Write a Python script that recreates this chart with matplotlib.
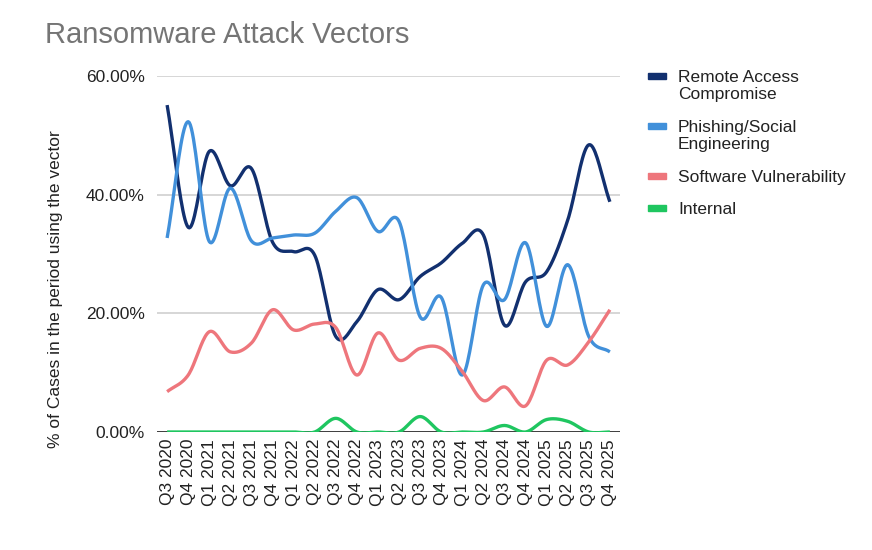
import numpy as np
import matplotlib.pyplot as plt
from matplotlib.patches import Rectangle
from matplotlib.ticker import FuncFormatter

plt.rcParams['font.family'] = ['Liberation Sans', 'DejaVu Sans']

quarters = ["Q3 2020", "Q4 2020", "Q1 2021", "Q2 2021", "Q3 2021", "Q4 2021",
            "Q1 2022", "Q2 2022", "Q3 2022", "Q4 2022", "Q1 2023", "Q2 2023",
            "Q3 2023", "Q4 2023", "Q1 2024", "Q2 2024", "Q3 2024", "Q4 2024",
            "Q1 2025", "Q2 2025", "Q3 2025", "Q4 2025"]

remote_access = [55.1, 34.5, 47.3, 41.5, 44.4, 32.0, 30.4, 29.8, 16.1, 18.6, 24.0, 22.3,
                 26.2, 28.5, 31.8, 33.2, 18.0, 25.3, 27.0, 35.7, 48.4, 38.8]
phishing = [32.7, 52.3, 32.1, 41.1, 32.2, 32.7, 33.2, 33.5, 37.2, 39.5, 33.8, 35.5,
            19.4, 22.7, 9.6, 24.8, 22.3, 31.9, 17.8, 28.2, 16.1, 13.5]
software_vuln = [6.8, 9.6, 16.9, 13.5, 15.0, 20.6, 17.2, 18.2, 17.6, 9.6, 16.7, 12.1,
                 14.1, 14.1, 10.2, 5.3, 7.6, 4.4, 12.1, 11.3, 15.2, 20.6]
internal = [0.0, 0.0, 0.0, 0.0, 0.0, 0.0, 0.0, 0.0, 2.3, 0.0, 0.0, 0.0,
            2.6, 0.0, 0.0, 0.0, 1.1, 0.0, 2.1, 1.8, 0.0, 0.0]

series = [("Remote Access\nCompromise", remote_access, "#12306f"),
          ("Phishing/Social\nEngineering", phishing, "#4190da"),
          ("Software Vulnerability", software_vuln, "#ee767c"),
          ("Internal", internal, "#1fc660")]


def smooth(y, n=20):
    # catmull-rom style cubic hermite through the points (x = 0..N-1)
    y = np.asarray(y, dtype=float) / 100.0
    N = len(y)
    m = np.zeros(N)
    m[1:-1] = (y[2:] - y[:-2]) / 2.0
    m[0] = y[1] - y[0]
    m[-1] = y[-1] - y[-2]
    xs, ys = [], []
    for i in range(N - 1):
        t = np.linspace(0, 1, n, endpoint=False)
        h00 = 2*t**3 - 3*t**2 + 1
        h10 = t**3 - 2*t**2 + t
        h01 = -2*t**3 + 3*t**2
        h11 = t**3 - t**2
        xs.append(i + t)
        ys.append(h00*y[i] + h10*m[i] + h01*y[i+1] + h11*m[i+1])
    xs.append([N - 1])
    ys.append([y[-1]])
    return np.concatenate(xs), np.concatenate(ys)


W, H = 872, 550
fig = plt.figure(figsize=(W/100, H/100), dpi=100)
ax = fig.add_axes([157/W, 1 - 432/H, 463/W, 356/H])

for label, vals, col in series:
    xs, ys = smooth(vals)
    ax.plot(xs, ys, color=col, lw=2.4, solid_capstyle='butt')

ax.set_xlim(-0.48, len(quarters) - 0.52)
ax.set_ylim(0, 0.6)
ax.set_yticks([0, 0.2, 0.4, 0.6])
ax.yaxis.set_major_formatter(FuncFormatter(lambda v, p: "%.2f%%" % (v * 100)))
ax.set_xticks(range(len(quarters)))
ax.set_xticklabels(quarters, rotation=90)
ax.tick_params(axis='both', length=0, labelsize=12.5, colors='#222222')
ax.tick_params(axis='y', pad=9)
ax.tick_params(axis='x', pad=5)
ax.grid(axis='y', color='#cccccc', lw=1.1)
ax.set_axisbelow(True)
for s in ax.spines.values():
    s.set_visible(False)
ax.axhline(0, color='#333333', lw=1.3, zorder=1)

ax.set_ylabel("% of Cases in the period using the vector", fontsize=12.5, color='#222222')
ax.yaxis.set_label_coords(-0.204, 0.40)

fig.text(45/W, 1 - 35/H, "Ransomware Attack Vectors", fontsize=21,
         color='#757575', va='center', ha='left')

# legend, handles aligned with the first line of each label
leg_rows = [76, 126, 176, 208]
for (label, vals, col), yc in zip(series, leg_rows):
    fig.patches.append(Rectangle((648/W, 1 - (yc + 3)/H), 18/W, 6/H,
                                 transform=fig.transFigure, color=col))
    fig.text(678/W, 1 - (yc - 6)/H, label, fontsize=12.5, color='#222222',
             va='top', ha='left', linespacing=1.2)

plt.savefig("out.png", dpi=100)
